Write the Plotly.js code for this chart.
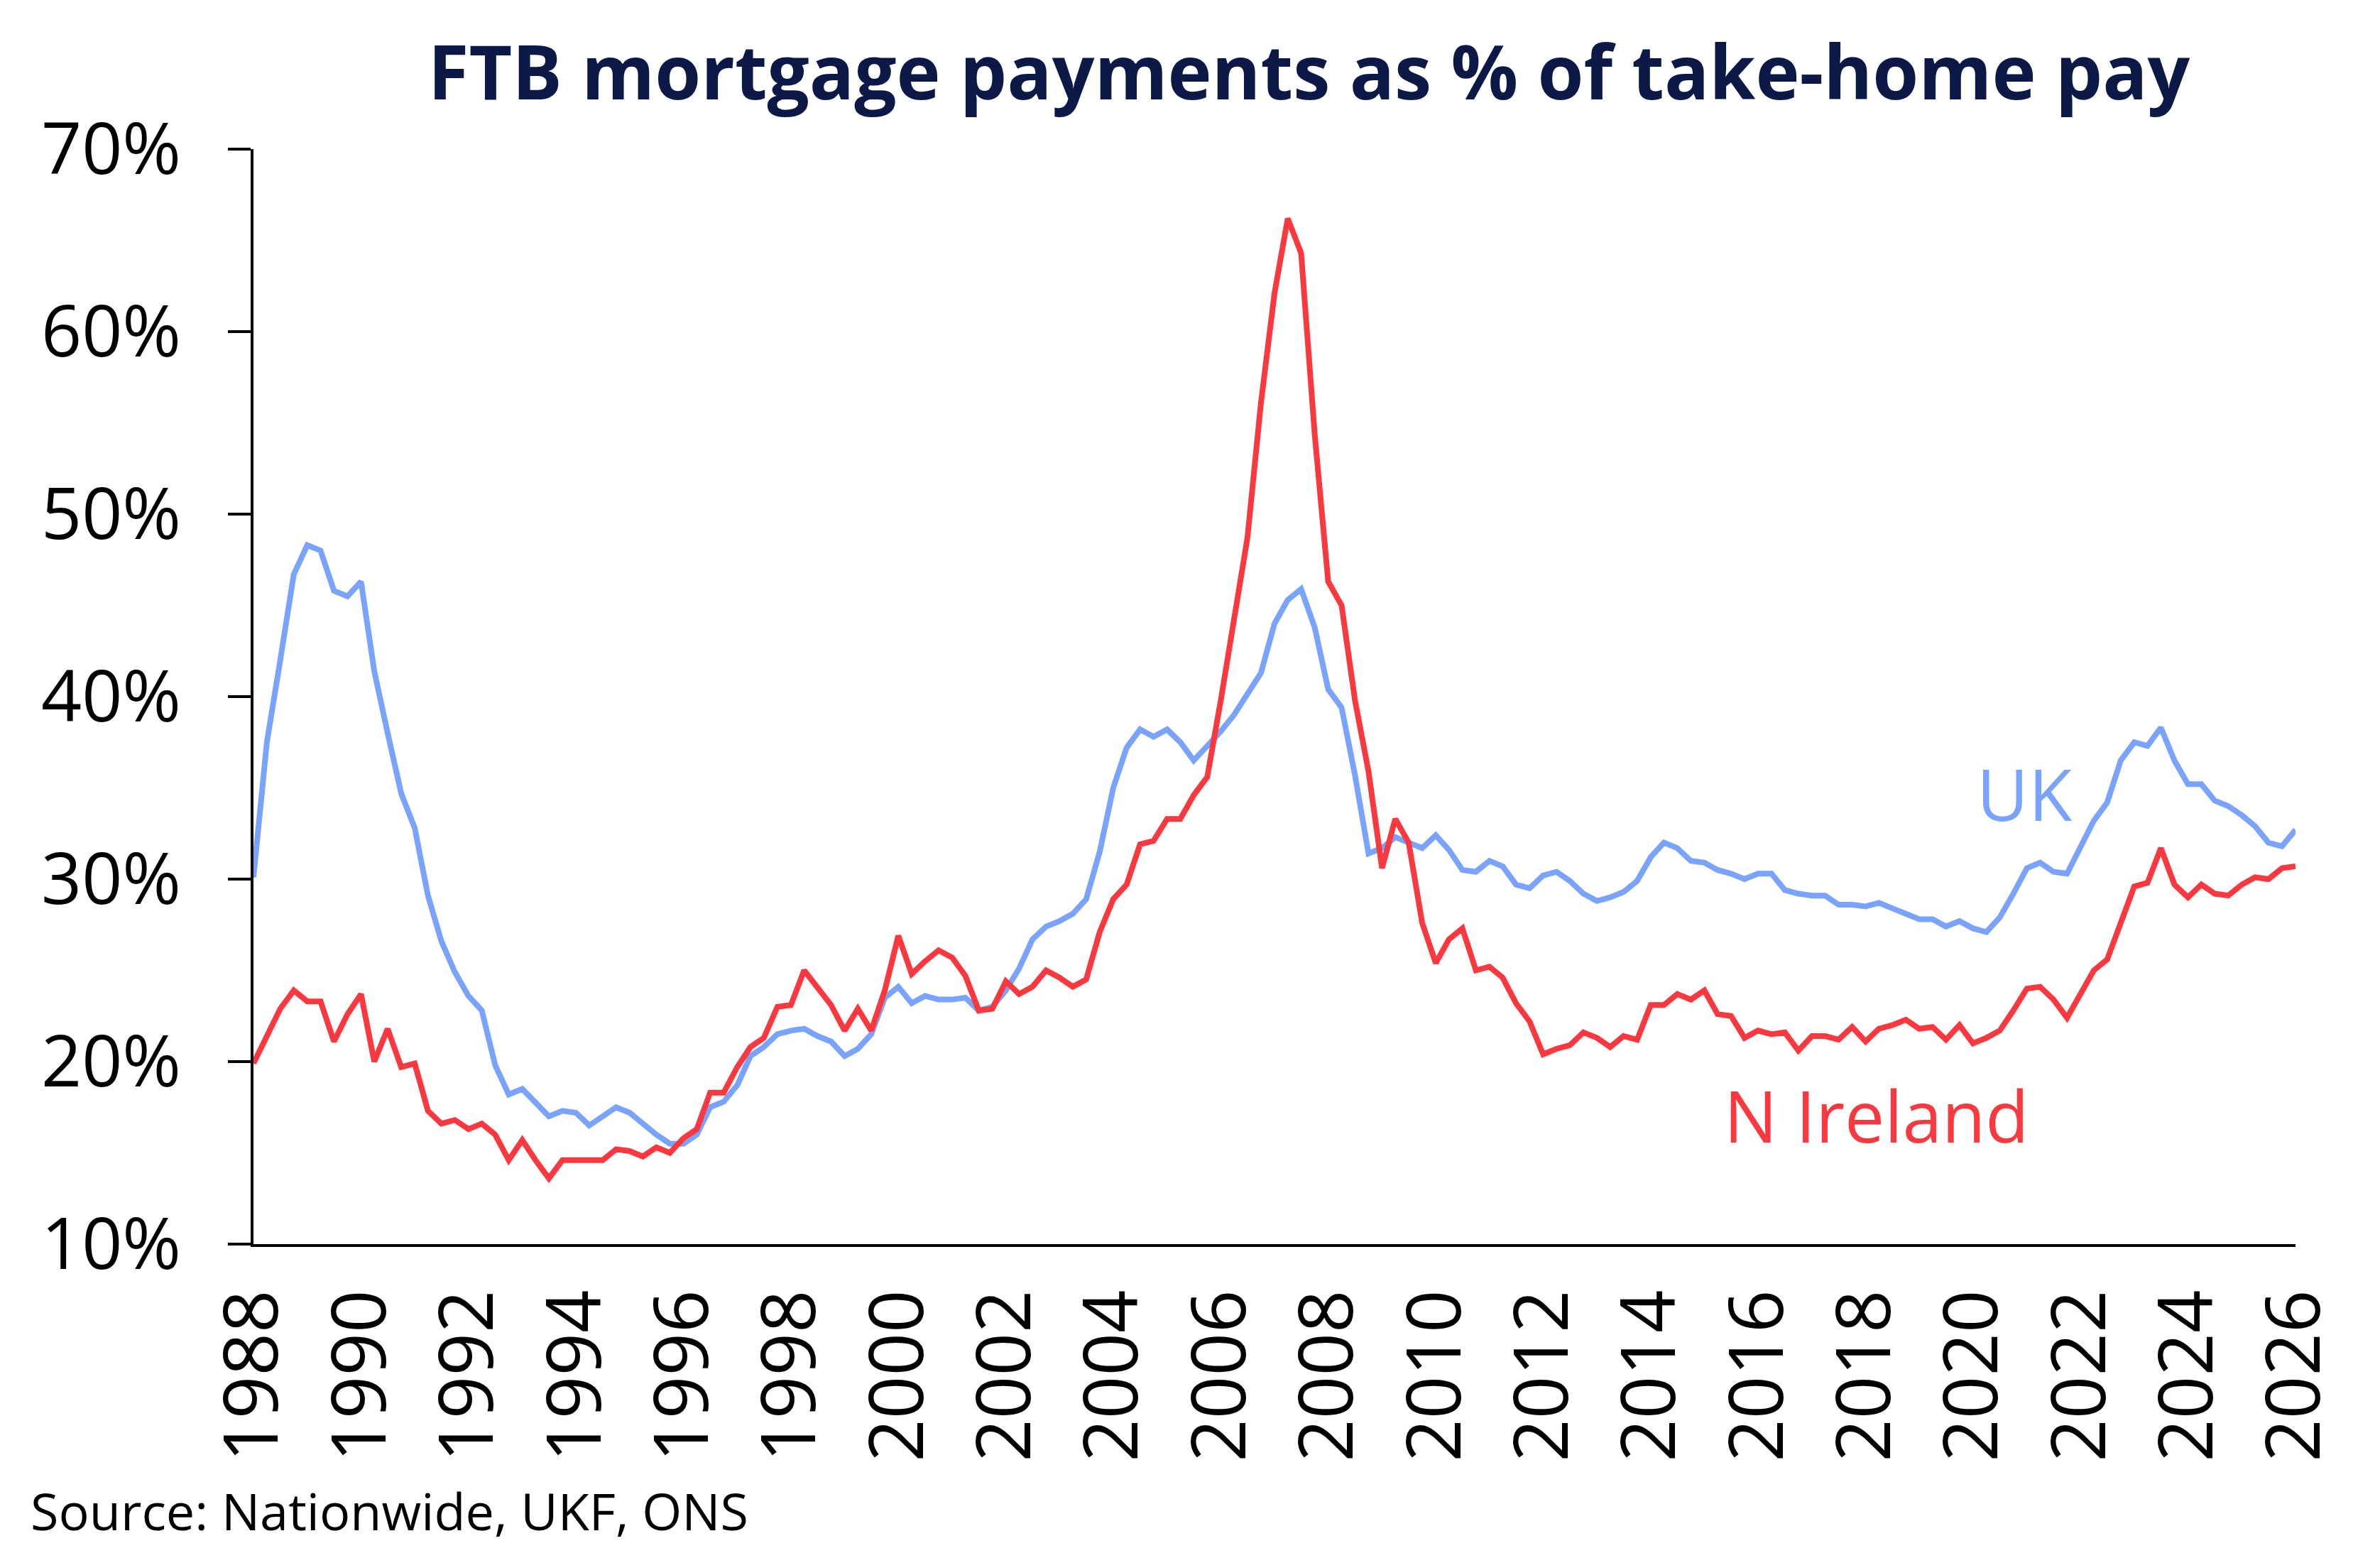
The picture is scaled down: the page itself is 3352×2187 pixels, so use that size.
<!DOCTYPE html>
<html>
<head>
<meta charset="utf-8">
<script src="https://cdn.plot.ly/plotly-3.0.1.min.js"></script>
<style>
  html, body { margin: 0; padding: 0; background: #fff; }
  #chart { width: 3352px; height: 2187px; }
</style>
</head>
<body>
<div id="chart"></div>
<script>
// quarterly, 1988 Q1 .. 2026 Q1
const firstYear = 1988
const lastYear = 2026

const ukValues = [
  30.1, 37.5, 42.0, 46.7, 48.3, 48.0, 45.8, 45.5, 46.3, 41.4, 38.0, 34.7,
  32.8, 29.1, 26.6, 24.9, 23.6, 22.8, 19.8, 18.2, 18.5, 17.7, 17.0, 17.3,
  17.2, 16.5, 17.0, 17.5, 17.2, 16.6, 16.0, 15.5, 15.5, 16.0, 17.5, 17.8,
  18.7, 20.3, 20.8, 21.5, 21.7, 21.8, 21.4, 21.1, 20.3, 20.7, 21.5, 23.5,
  24.1, 23.2, 23.6, 23.4, 23.4, 23.5, 22.8, 23.0, 23.9, 25.1, 26.7, 27.4,
  27.7, 28.1, 28.9, 31.5, 35.0, 37.2, 38.2, 37.8, 38.2, 37.5, 36.5, 37.3,
  38.1, 39.0, 40.2, 41.3, 44.0, 45.3, 45.9, 43.8, 40.4, 39.4, 35.7, 31.4,
  31.7, 32.3, 32.0, 31.7, 32.4, 31.6, 30.5, 30.4, 31.0, 30.7, 29.7, 29.5,
  30.2, 30.4, 29.9, 29.2, 28.8, 29.0, 29.3, 29.9, 31.2, 32.0, 31.7, 31.0,
  30.9, 30.5, 30.3, 30.0, 30.3, 30.3, 29.4, 29.2, 29.1, 29.1, 28.6, 28.6,
  28.5, 28.7, 28.4, 28.1, 27.8, 27.8, 27.4, 27.7, 27.3, 27.1, 27.9, 29.2,
  30.6, 30.9, 30.4, 30.3, 31.8, 33.2, 34.2, 36.5, 37.5, 37.3, 38.3, 36.5,
  35.2, 35.2, 34.3, 34.0, 33.5, 32.9, 32.0, 31.8, 32.7
]

const niValues = [
  19.9, 21.4, 22.9, 23.9, 23.3, 23.3, 21.1, 22.6, 23.7, 20.0, 21.8, 19.7,
  19.9, 17.3, 16.6, 16.8, 16.3, 16.6, 16.0, 14.6, 15.7, 14.6, 13.6, 14.6,
  14.6, 14.6, 14.6, 15.2, 15.1, 14.8, 15.3, 15.0, 15.8, 16.3, 18.3, 18.3,
  19.7, 20.8, 21.3, 23.0, 23.1, 25.0, 24.0, 23.1, 21.7, 22.9, 21.7, 23.9,
  26.9, 24.8, 25.5, 26.1, 25.7, 24.7, 22.8, 22.9, 24.4, 23.7, 24.1, 25.0,
  24.6, 24.1, 24.5, 27.1, 28.9, 29.7, 31.9, 32.1, 33.3, 33.3, 34.6, 35.6,
  39.8, 44.3, 48.7, 56.1, 62.1, 66.2, 64.3, 54.4, 46.3, 45.0, 39.8, 35.9,
  30.6, 33.3, 32.0, 27.6, 25.4, 26.7, 27.3, 25.0, 25.2, 24.6, 23.2, 22.2,
  20.4, 20.7, 20.9, 21.6, 21.3, 20.8, 21.4, 21.2, 23.1, 23.1, 23.7, 23.4,
  23.9, 22.6, 22.5, 21.3, 21.7, 21.5, 21.6, 20.6, 21.4, 21.4, 21.2, 21.9,
  21.1, 21.8, 22.0, 22.3, 21.8, 21.9, 21.2, 22.0, 21.0, 21.3, 21.7, 22.8,
  24.0, 24.1, 23.4, 22.4, 23.7, 25.0, 25.6, 27.7, 29.6, 29.8, 31.7, 29.7,
  29.0, 29.7, 29.2, 29.1, 29.7, 30.1, 30.0, 30.6, 30.7
]

const tickYears = [1988, 1990, 1992, 1994, 1996, 1998, 2000, 2002, 2004, 2006,
  2008, 2010, 2012, 2014, 2016, 2018, 2020, 2022, 2024, 2026]
const yTicks = [10, 20, 30, 40, 50, 60, 70]

const months = ['01', '04', '07', '10']
const quarters = []
for (let y = firstYear; y <= lastYear; y++) {
  for (let m of months) {
    if (quarters.length < ukValues.length) quarters.push(y + '-' + m + '-01')
  }
}

const blue = '#7aa3fd'
const red = '#f9393f'
const navy = '#0c1947'
const font = 'Open Sans, Lato, sans-serif'

const traces = [
  {
    x: quarters, y: ukValues, name: 'UK', type: 'scatter', mode: 'lines',
    line: { color: blue, width: 8 }
  },
  {
    x: quarters, y: niValues, name: 'N Ireland', type: 'scatter', mode: 'lines',
    line: { color: red, width: 8 }
  }
]

const layout = {
  width: 3352,
  height: 2187,
  margin: { l: 357, r: 119, t: 210, b: 435 },
  paper_bgcolor: '#fff',
  plot_bgcolor: '#fff',
  showlegend: false,
  title: {
    text: '<b>FTB mortgage payments as % of take-home pay</b>',
    font: { family: font, size: 105, color: navy },
    x: 0.55, xanchor: 'center', y: 0.953, yanchor: 'middle'
  },
  xaxis: {
    type: 'date',
    range: [firstYear + '-01-01', lastYear + '-01-01'],
    tickvals: tickYears.map(y => y + '-01-01'),
    ticktext: tickYears.map(String),
    tickangle: -90,
    ticks: '',
    ticklabelstandoff: 18,
    showgrid: false,
    zeroline: false,
    showline: true,
    linecolor: '#000',
    linewidth: 4,
    tickfont: { family: font, size: 106, color: '#000' }
  },
  yaxis: {
    range: [10, 70],
    tickvals: yTicks,
    ticktext: yTicks.map(v => v + '%'),
    ticks: 'outside',
    ticklen: 32,
    tickwidth: 4,
    tickcolor: '#000',
    ticklabelstandoff: 46,
    showgrid: false,
    zeroline: false,
    showline: true,
    linecolor: '#000',
    linewidth: 4,
    tickfont: { family: font, size: 100, color: '#000' }
  },
  annotations: [
    {
      x: '2020-12-15', y: 34.7, xref: 'x', yref: 'y', text: 'UK', showarrow: false,
      font: { family: font, size: 100, color: blue }
    },
    {
      x: '2018-03-15', y: 17.1, xref: 'x', yref: 'y', text: 'N Ireland', showarrow: false,
      font: { family: font, size: 100, color: red }
    },
    {
      x: -0.11, y: -0.243, xref: 'paper', yref: 'paper', xanchor: 'left', yanchor: 'middle',
      text: 'Source: Nationwide, UKF, ONS', showarrow: false,
      font: { family: font, size: 72, color: '#000' }
    }
  ]
}

Plotly.newPlot('chart', traces, layout, { staticPlot: true })
</script>
</body>
</html>
